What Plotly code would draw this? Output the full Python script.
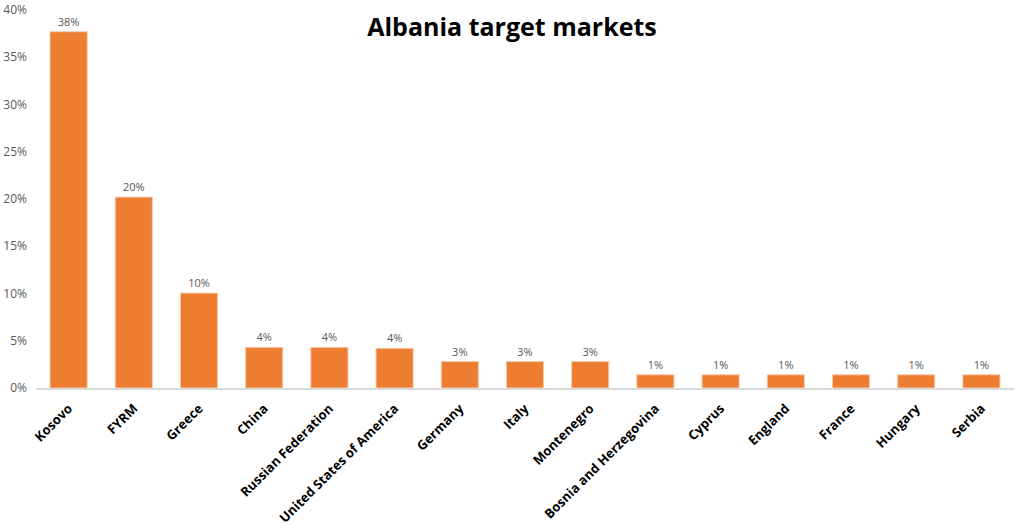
import plotly.graph_objects as go

categories = ["Kosovo", "FYRM", "Greece", "China", "Russian Federation",
              "United States of America", "Germany", "Italy", "Montenegro",
              "Bosnia and Herzegovina", "Cyprus", "England", "France", "Hungary", "Serbia"]
shares = [0.377, 0.202, 0.1005, 0.043, 0.043, 0.042, 0.028, 0.028, 0.028,
          0.014, 0.014, 0.014, 0.014, 0.014, 0.014]
y_ticks = [0, 0.05, 0.10, 0.15, 0.20, 0.25, 0.30, 0.35, 0.40]

fig = go.Figure(go.Bar(
    x=categories, y=shares,
    marker=dict(color="#ED7D31", line=dict(color="#F8CBAD", width=1)),
    texttemplate="%{y:.0%}", textposition="outside",
    textfont=dict(family="Open Sans, Liberation Sans", size=11, color="#595959"),
    cliponaxis=False,
))

fig.update_layout(
    width=1024, height=532,
    margin=dict(l=36, r=10, t=10, b=144),
    paper_bgcolor="white", plot_bgcolor="white",
    bargap=0.43,
    showlegend=False,
    title=dict(text="<b>Albania target markets</b>", x=0.5, xanchor="center",
               y=0.949, yanchor="middle",
               font=dict(family="Open Sans, Liberation Sans", size=25, color="black")),
)
fig.update_xaxes(
    automargin=False,
    tickangle=-45, showline=True, linecolor="#D9D9D9", linewidth=1.5,
    tickfont=dict(family="Open Sans, Liberation Sans", size=13, color="black", weight="bold"),
    ticks="", ticklabelstandoff=6,
)
fig.update_yaxes(
    automargin=False,
    range=[0, 0.40], tickvals=y_ticks, tickformat=".0%",
    showgrid=False, zeroline=False, showline=False,
    tickfont=dict(family="Open Sans, Liberation Sans", size=12, color="#595959"),
    ticklabelstandoff=8,
)

fig.write_html("out.html", config={"displayModeBar": False},
               post_script="document.body.style.margin='0';")
